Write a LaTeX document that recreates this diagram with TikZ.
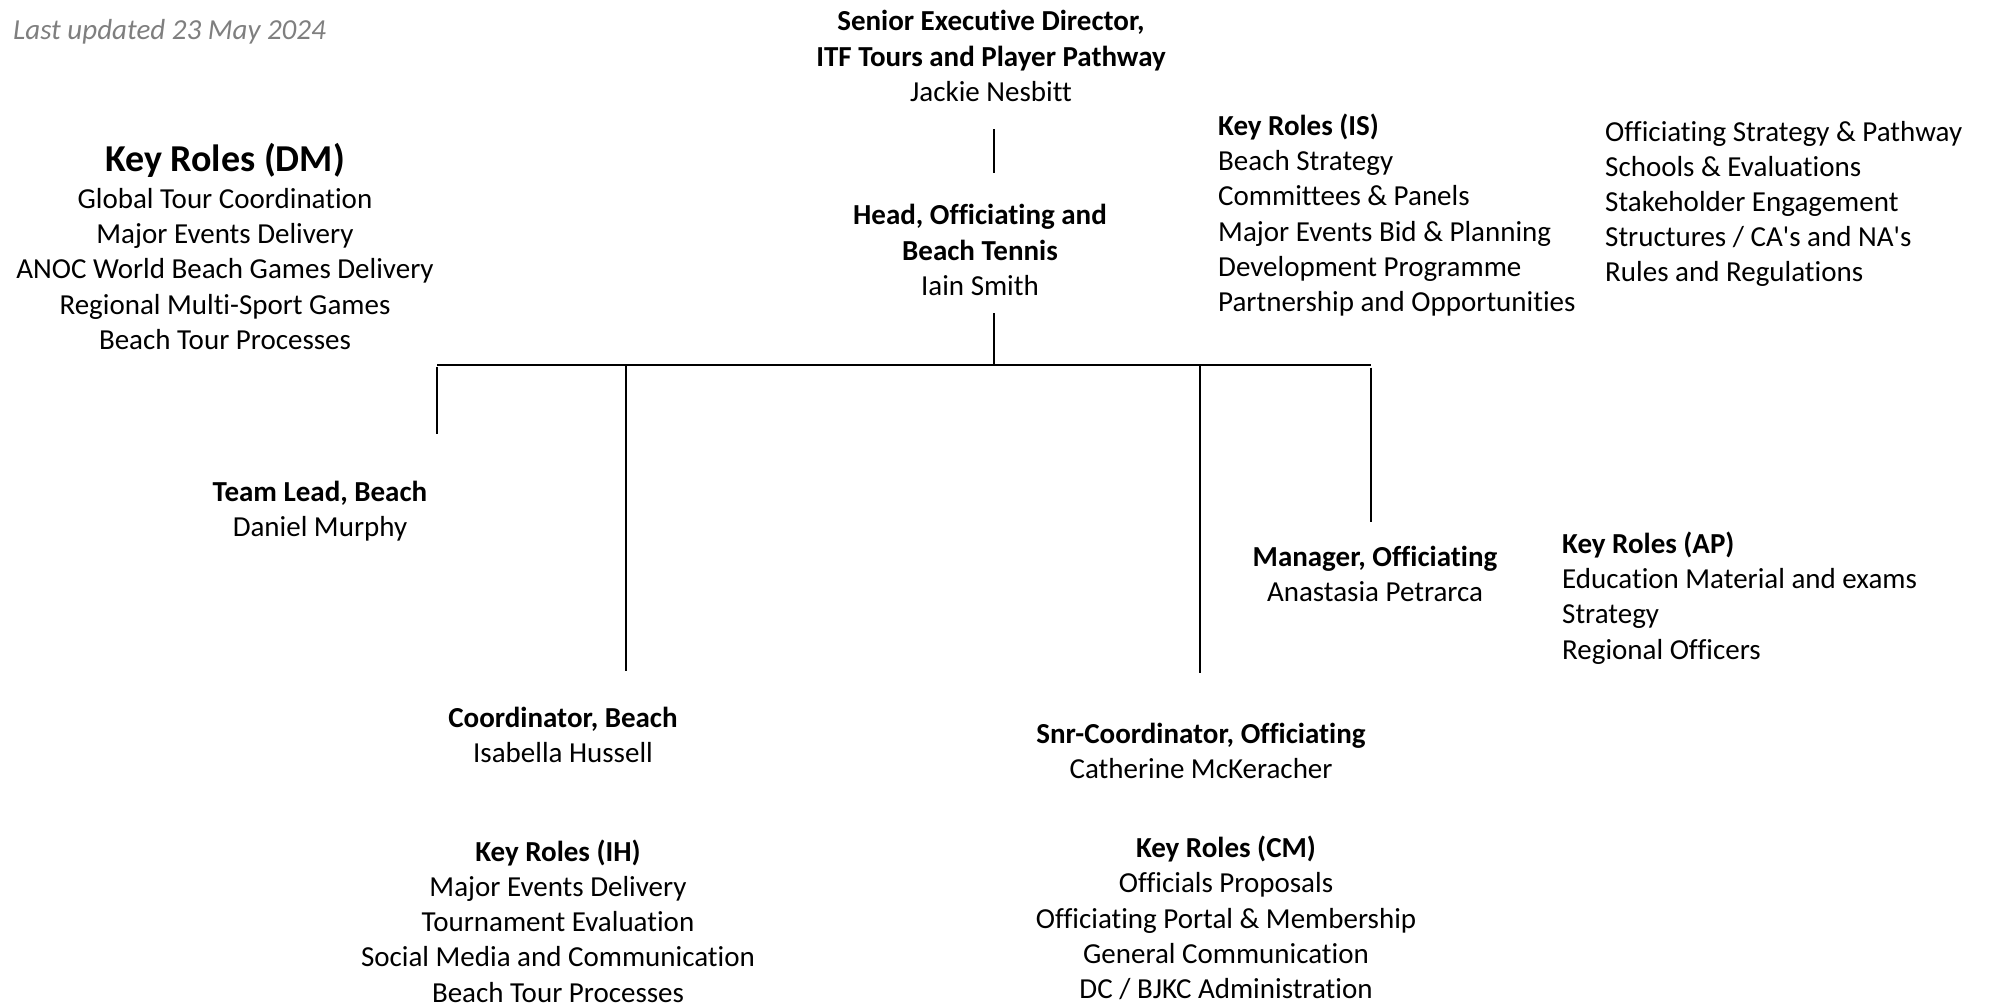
\documentclass[tikz,border=0pt]{standalone}
\usepackage{fontspec}
\setmainfont{Carlito}[Ligatures={NoCommon}]
\newfontfamily\plainfont{Carlito}[Ligatures={NoCommon}]
\newcommand{\apos}{{\plainfont '}}
\definecolor{upd}{HTML}{7F7F7F}
\begin{document}
\begin{tikzpicture}[x=1pt,y=-1pt,
  txt/.style={inner sep=0pt, align=center, font=\fontsize{29}{35.2}\selectfont},
  ltxt/.style={inner sep=0pt, align=left, anchor=west, font=\fontsize{29}{35.2}\selectfont},
  bigtitle/.style={inner sep=0pt, font=\fontsize{38}{44}\selectfont\bfseries},
  conn/.style={line width=2.4pt, black}]
\useasboundingbox (0,0) rectangle (1990,1005);
% note
\node[ltxt, text=upd, font=\fontsize{29}{35.2}\selectfont\itshape] (upd) at (13,32) {Last updated 23 May 2024};
% people
\node[txt] (sed) at (991,56) {\textbf{Senior Executive Director,}\\\textbf{ITF Tours and Player Pathway}\\Jackie Nesbitt};
\node[txt] (head) at (980,250) {\textbf{Head, Officiating and}\\\textbf{Beach Tennis}\\Iain Smith};
\node[txt] (team) at (320,511) {\textbf{Team Lead, Beach}\\Daniel Murphy};
\node[txt] (coord) at (563,735) {\textbf{Coordinator, Beach}\\Isabella Hussell};
\node[txt] (snr) at (1201,751) {\textbf{Snr-Coordinator, Officiating}\\Catherine McKeracher};
\node[txt] (mgr) at (1375,574) {\textbf{Manager, Officiating}\\Anastasia Petrarca};
% key roles
\node[bigtitle] (dmt) at (225,160) {Key Roles (DM)};
\node[txt] (dm) at (225,269) {Global Tour Coordination\\Major Events Delivery\\ANOC World Beach Games Delivery\\Regional Multi-Sport Games\\Beach Tour Processes};
\node[ltxt] (is) at (1218,215) {\textbf{Key Roles (IS)}\\Beach Strategy\\Committees \& Panels\\Major Events Bid \& Planning\\Development Programme\\Partnership and Opportunities};
\node[ltxt] (isx) at (1605,204) {Officiating Strategy \& Pathway\\Schools \& Evaluations\\Stakeholder Engagement\\Structures / CA\apos s and NA\apos s\\Rules and Regulations};
\node[ltxt] (ap) at (1562,598) {\textbf{Key Roles (AP)}\\Education Material and exams\\Strategy\\Regional Officers};
\node[txt] (ih) at (558,921) {\textbf{Key Roles (IH)}\\Major Events Delivery\\Tournament Evaluation\\Social Media and Communication\\Beach Tour Processes};
\node[txt] (cm) at (1226,918) {\textbf{Key Roles (CM)}\\Officials Proposals\\Officiating Portal \& Membership\\General Communication\\DC / BJKC Administration};
% connector coordinates
\coordinate (c1a) at (994,129);
\coordinate (c1b) at (994,173);
\coordinate (c2a) at (994,313);
\coordinate (bj) at (994,365);
\coordinate (bl) at (437,365);
\coordinate (bb) at (626,365);
\coordinate (bs) at (1200,365);
\coordinate (br) at (1371,365);
\coordinate (tl) at (437,434);
\coordinate (cb) at (626,671);
\coordinate (cs) at (1200,673);
\coordinate (cm2) at (1371,522);
% connectors
\draw[conn] (c1a) -- (c1b);
\draw[conn] (c2a) -- (bj);
\draw[conn] (bl) -- (br);
\draw[conn] ([yshift=-1.5]bl) -- (tl);
\draw[conn] (bb) -- (cb);
\draw[conn] (bs) -- (cs);
\draw[conn] ([yshift=-2.5]br) -- (cm2);
\end{tikzpicture}
\end{document}
